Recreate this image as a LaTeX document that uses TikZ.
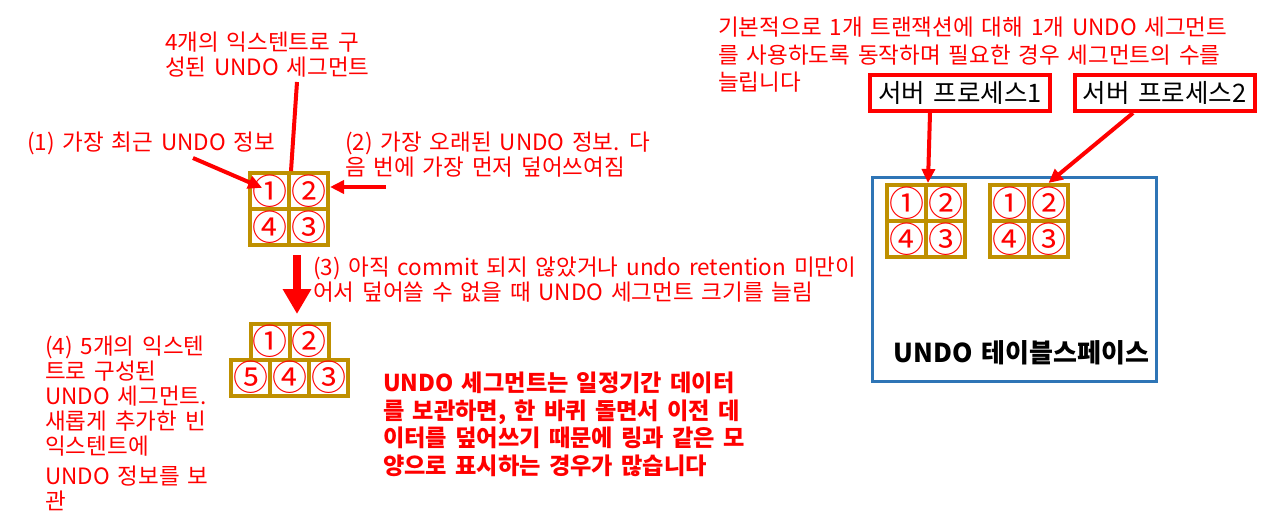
\documentclass[tikz,border=0pt]{standalone}
\usepackage{fontspec}
\setmainfont{Noto Sans CJK KR}[WordSpace=1.55]
\usetikzlibrary{positioning}
\usetikzlibrary{calc}
\usetikzlibrary{arrows.meta}

\definecolor{extgold}{HTML}{BF9000}
\definecolor{tbsblue}{HTML}{2E75B6}

% circled number, kept inside the extent box
\newcommand{\circnum}[1]{\makebox[0pt]{\raisebox{-0.38em}[0pt][0pt]{#1}}}

\tikzset{
  ext/.style={draw=extgold, line width=4pt, minimum width=39pt, minimum height=36pt,
    inner sep=0pt, text=red, font=\fontsize{35}{35}\selectfont},
  note/.style={text=red, inner sep=0pt, align=left, font=\fontsize{22.5}{25}\selectfont},
  boldnote/.style={text=red, inner sep=0pt, align=left, font=\fontsize{23.2}{27.5}\selectfont\bfseries},
  proc/.style={draw=red, line width=4pt, minimum width=180pt, minimum height=36pt,
    inner sep=0pt, font=\fontsize{25.5}{25.5}\selectfont},
  redline/.style={draw=red, line width=4pt},
  redarrow/.style={draw=red, line width=4pt, -{Triangle[length=14pt,width=13pt]}}
}

\begin{document}
\begin{tikzpicture}[x=1pt,y=-1pt]
\useasboundingbox (0,0) rectangle (1283,532);

% annotations
\node[note,anchor=north west](lblSeg) at (165,32){4개의 익스텐트로 구\\성된 UNDO 세그먼트};
\node[note,anchor=west](lblRecent) at (27,143){(1) 가장 최근 UNDO 정보};
\node[note,anchor=north west](lblOldest) at (345,132){(2) 가장 오래된 UNDO 정보. 다\\음 번에 가장 먼저 덮어쓰여짐};
\node[note,anchor=north west](lblGrow) at (313,257){(3) 아직 commit 되지 않았거나 undo retention 미만이\\어서 덮어쓸 수 없을 때 UNDO 세그먼트 크기를 늘림};
\node[note,anchor=north west](lblFive) at (45,336){(4) 5개의 익스텐\\트로 구성된\\UNDO 세그먼트.\\새롭게 추가한 빈\\익스텐트에\\[5pt]UNDO 정보를 보\\관};
\node[boldnote,anchor=north west](lblRing) at (383,372){UNDO 세그먼트는 일정기간 데이터\\를 보관하면, 한 바퀴 돌면서 이전 데\\이터를 덮어쓰기 때문에 링과 같은 모\\양으로 표시하는 경우가 많습니다};
\node[note,anchor=north west,font=\fontsize{22.5}{27.5}\selectfont](lblBasic) at (718,17){기본적으로 1개 트랜잭션에 대해 1개 UNDO 세그먼트\\를 사용하도록 동작하며 필요한 경우 세그먼트의 수를\\늘립니다};

% segment with 4 extents
\node[ext](c1) at (269.5,191){\circnum{①}};
\node[ext](c2) at (308.5,191){\circnum{②}};
\node[ext](c4) at (269.5,227){\circnum{④}};
\node[ext](c3) at (308.5,227){\circnum{③}};

% segment with 5 extents
\node[ext](d1) at (270,341.5){\circnum{①}};
\node[ext](d2) at (309,341.5){\circnum{②}};
\node[ext](d5) at (250.5,377.5){\circnum{⑤}};
\node[ext](d4) at (289.5,377.5){\circnum{④}};
\node[ext](d3) at (328.5,377.5){\circnum{③}};

% undo tablespace
\node[draw=tbsblue,line width=3pt,minimum width=284pt,minimum height=204pt](tbs) at (1014.5,279.5){};
\node[inner sep=0pt,font=\fontsize{26}{26}\selectfont\bfseries](tbsName) at (1021.5,353){UNDO 테이블스페이스};
\node[ext](a1) at (906.5,203){\circnum{①}};
\node[ext](a2) at (945.5,203){\circnum{②}};
\node[ext](a4) at (906.5,239){\circnum{④}};
\node[ext](a3) at (945.5,239){\circnum{③}};
\node[ext](b1) at (1009.5,203){\circnum{①}};
\node[ext](b2) at (1048.5,203){\circnum{②}};
\node[ext](b4) at (1009.5,239){\circnum{④}};
\node[ext](b3) at (1048.5,239){\circnum{③}};

% server processes
\node[proc](sp1) at (960,93){서버 프로세스1};
\node[proc](sp2) at (1164.5,93){서버 프로세스2};

\coordinate (segFoot) at (297,82);
\coordinate (recentFoot) at (193,158);
\coordinate (oldestFoot) at (386,187);
\coordinate (growTop) at (297,255);
\coordinate (growTip) at (297,314);
\coordinate (sp1Foot) at (930,113);
\coordinate (sp2Foot) at (1133,113);

\path
(segFoot) edge[redline] (c1.north east)
(recentFoot) edge[redarrow,shorten >=8pt] (c1.center)
(oldestFoot) edge[redarrow] (oldestFoot -| c2.east)
(growTop) edge[draw=red,line width=8pt,-{Triangle[length=25pt,width=27pt]}] (growTip)
(sp1Foot) edge[redarrow] (a1.north east)
(sp2Foot) edge[redarrow] (b2.north);
\end{tikzpicture}
\end{document}
